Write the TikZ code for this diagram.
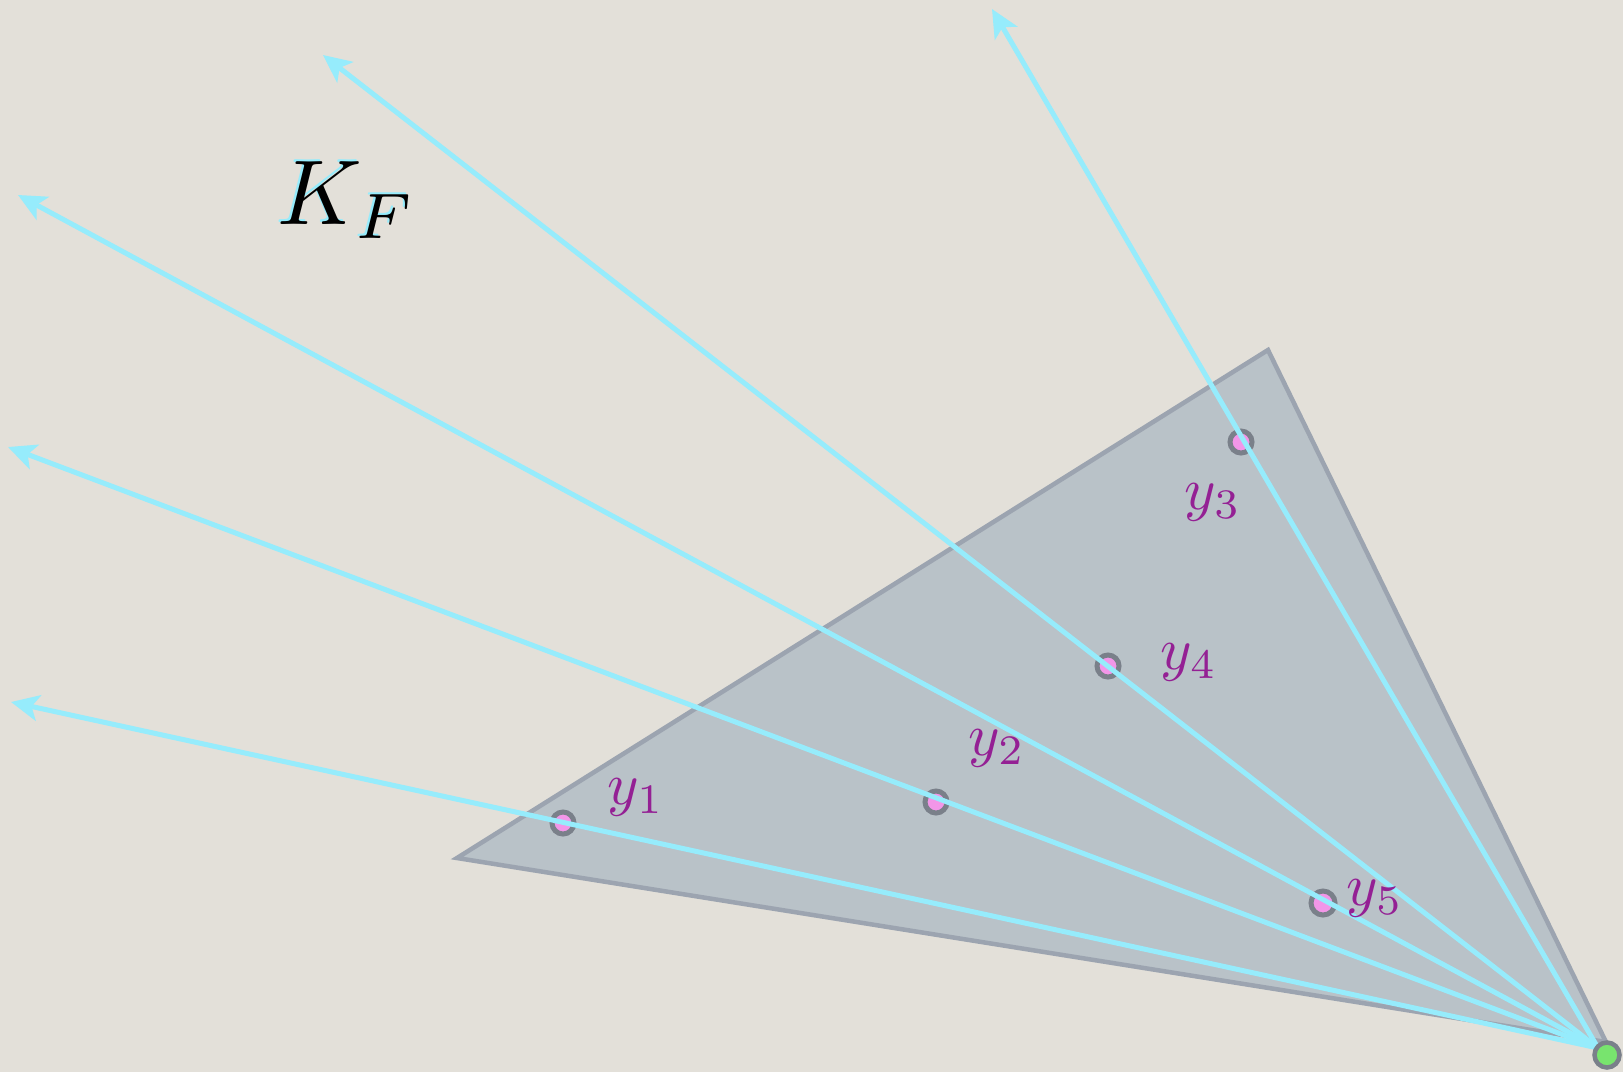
\documentclass[tikz,border=0pt]{standalone}
\usetikzlibrary{arrows.meta}
\definecolor{bgc}{RGB}{227,224,217}
\definecolor{trifill}{RGB}{185,194,200}
\definecolor{tridraw}{RGB}{156,164,176}
\definecolor{raycol}{RGB}{150,236,252}
\definecolor{ringcol}{RGB}{122,128,138}
\definecolor{ptfill}{RGB}{242,150,232}
\definecolor{apexfill}{RGB}{120,228,110}
\definecolor{labcol}{RGB}{148,32,148}
\tikzset{
  ray/.style={draw=raycol, line width=5pt, -{Stealth[length=28pt,width=26pt,inset=7pt]}},
  pt/.style={circle, fill=ptfill, draw=ringcol, line width=5pt, minimum size=22pt, inner sep=0pt},
  apexpt/.style={circle, fill=apexfill, draw=ringcol, line width=4.5pt, minimum size=25pt, inner sep=0pt},
  lab/.style={text=labcol, scale=6, inner sep=0pt},
  kflab/.style={scale=9.2, inner sep=0pt},
}
\begin{document}
\begin{tikzpicture}[x=1pt,y=-1pt]
\useasboundingbox (0,0) rectangle (1623,1072);
\fill[bgc] (0,0) rectangle (1623,1072);
% triangle
\filldraw[fill=trifill, draw=tridraw, line width=4.5pt, line join=miter] (457,858) -- (1268,350) -- (1606,1042) -- cycle;
% points
\node[pt] (p1) at (563,823) {};
\node[pt] (p2) at (936,802) {};
\node[pt] (p3) at (1241,442) {};
\node[pt] (p4) at (1108,666) {};
\node[pt, minimum width=19pt, minimum height=24pt] (p5) at (1323,903) {};
% arrow tips
\coordinate (t1) at (11,702);
\coordinate (t2) at (8,447);
\coordinate (t3) at (992,9);
\coordinate (t4) at (323,55);
\coordinate (t5) at (18,195);
\coordinate (o) at (1598,1048);
% rays
\draw[ray] (o) -- (t1);
\draw[ray] (o) -- (t2);
\draw[ray] (o) -- (t3);
\draw[ray] (o) -- (t4);
\draw[ray] (o) -- (t5);
% apex
\node[apexpt] (apex) at (1607,1055) {};
% labels
\node[lab] (l1) at (636,797) {$y_1$};
\node[lab] (l2) at (997,748) {$y_2$};
\node[lab] (l3) at (1213,502) {$y_3$};
\node[lab] (l4) at (1189,662) {$y_4$};
\node[lab] (l5) at (1375,898) {$y_5$};
% K_F with cyan shadow
\node[kflab, text=raycol] (kfs) at (345,198) {$K_F$};
\node[kflab, text=black] (kf) at (347,200) {$K_F$};
\end{tikzpicture}
\end{document}
